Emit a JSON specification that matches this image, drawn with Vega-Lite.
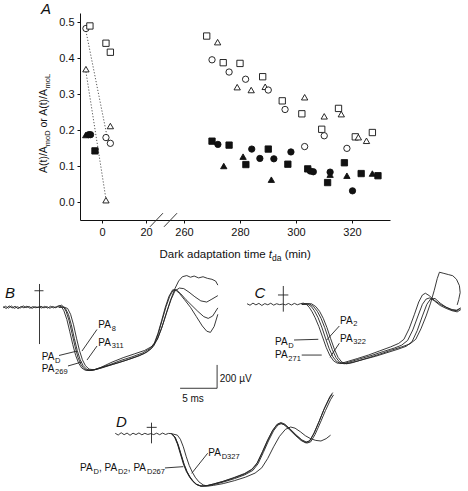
{
"$schema": "https://vega.github.io/schema/vega-lite/v6.json",
"width": 310, "height": 207,
"autosize": {"type": "none"},
"padding": {"left": 80, "top": 13, "right": 78, "bottom": 271},
"background": "white",
"config": {
  "view": {"stroke": null},
  "font": "Liberation Sans",
  "axis": {"grid": false, "domainColor": "#111", "tickColor": "#111", "labelColor": "#111", "titleColor": "#111", "labelFont": "Liberation Sans", "titleFont": "Liberation Sans", "titleFontWeight": "normal", "domainWidth": 1, "tickWidth": 1}
},
"datasets": {
  "pts": [
    {"t":-7.3,"r":0.482,"m":"c","f":"o"},{"t":-5.5,"r":0.489,"m":"s","f":"o"},{"t":1.8,"r":0.441,"m":"s","f":"o"},{"t":3.8,"r":0.416,"m":"s","f":"o"},
    {"t":-7.3,"r":0.369,"m":"t","f":"o"},{"t":3.8,"r":0.211,"m":"t","f":"o"},{"t":1.8,"r":0.179,"m":"c","f":"o"},{"t":3.8,"r":0.163,"m":"c","f":"o"},{"t":1.8,"r":0.005,"m":"t","f":"o"},
    {"t":-7.4,"r":0.186,"m":"t","f":"f"},{"t":-6.0,"r":0.187,"m":"c","f":"f"},{"t":-5.2,"r":0.187,"m":"c","f":"f"},{"t":-3.2,"r":0.142,"m":"s","f":"f"},
    {"t":268.1,"r":0.461,"m":"s","f":"o"},{"t":272.0,"r":0.444,"m":"t","f":"o"},{"t":270.0,"r":0.395,"m":"c","f":"o"},{"t":274.0,"r":0.387,"m":"s","f":"o"},
    {"t":280.0,"r":0.385,"m":"s","f":"o"},{"t":276.1,"r":0.361,"m":"c","f":"o"},{"t":282.0,"r":0.341,"m":"c","f":"o"},{"t":288.1,"r":0.348,"m":"s","f":"o"},
    {"t":279.0,"r":0.319,"m":"t","f":"o"},{"t":284.0,"r":0.311,"m":"t","f":"o"},{"t":289.0,"r":0.320,"m":"t","f":"o"},{"t":290.1,"r":0.311,"m":"c","f":"o"},
    {"t":295.1,"r":0.281,"m":"s","f":"o"},{"t":303.1,"r":0.291,"m":"t","f":"o"},{"t":296.1,"r":0.257,"m":"c","f":"o"},{"t":302.1,"r":0.245,"m":"s","f":"o"},
    {"t":310.1,"r":0.238,"m":"t","f":"o"},{"t":315.2,"r":0.260,"m":"s","f":"o"},{"t":316.2,"r":0.244,"m":"t","f":"o"},{"t":309.2,"r":0.202,"m":"s","f":"o"},
    {"t":310.1,"r":0.184,"m":"c","f":"o"},{"t":303.1,"r":0.154,"m":"c","f":"o"},{"t":318.2,"r":0.149,"m":"c","f":"o"},{"t":321.2,"r":0.181,"m":"s","f":"o"},
    {"t":322.3,"r":0.180,"m":"t","f":"o"},{"t":325.2,"r":0.170,"m":"t","f":"o"},{"t":327.3,"r":0.193,"m":"s","f":"o"},
    {"t":270.0,"r":0.169,"m":"s","f":"f"},{"t":272.1,"r":0.160,"m":"c","f":"f"},{"t":276.1,"r":0.158,"m":"s","f":"f"},{"t":274.2,"r":0.100,"m":"t","f":"f"},
    {"t":281.1,"r":0.126,"m":"t","f":"f"},{"t":282.1,"r":0.104,"m":"s","f":"f"},{"t":284.2,"r":0.147,"m":"c","f":"f"},{"t":290.1,"r":0.147,"m":"s","f":"f"},
    {"t":287.1,"r":0.121,"m":"c","f":"f"},{"t":292.1,"r":0.120,"m":"c","f":"f"},{"t":291.2,"r":0.062,"m":"t","f":"f"},{"t":298.2,"r":0.139,"m":"c","f":"f"},
    {"t":297.1,"r":0.105,"m":"s","f":"f"},{"t":304.2,"r":0.092,"m":"s","f":"f"},{"t":305.1,"r":0.086,"m":"c","f":"f"},{"t":306.2,"r":0.084,"m":"c","f":"f"},
    {"t":312.2,"r":0.083,"m":"c","f":"f"},{"t":312.2,"r":0.076,"m":"t","f":"f"},{"t":311.3,"r":0.054,"m":"s","f":"f"},{"t":317.3,"r":0.109,"m":"s","f":"f"},
    {"t":318.2,"r":0.073,"m":"t","f":"f"},{"t":320.2,"r":0.031,"m":"c","f":"f"},{"t":323.3,"r":0.079,"m":"s","f":"f"},{"t":327.3,"r":0.079,"m":"t","f":"f"},
    {"t":329.3,"r":0.073,"m":"s","f":"f"}
  ],
  "fits": [
    {"t":-7.3,"r":0.475,"t2":2.7,"r2":0.17},
    {"t":-7.3,"r":0.362,"t2":1.8,"r2":0.008}
  ],
  "brk": [
    {"t":21.8,"r":-0.069,"t2":27.7,"r2":-0.031},
    {"t":252.84,"r":-0.069,"t2":257.5,"r2":-0.031}
  ],
  "ttl": [
    {"k":"xm","t":26.14,"r":-0.1556,"txt":"Dark adaptation time"},
    {"k":"xi","t":290.27,"r":-0.1556,"txt":"t"},
    {"k":"xs","t":291.41,"r":-0.1556,"txt":"da"},
    {"k":"xm","t":295.95,"r":-0.1556,"txt":"(min)"},
    {"k":"ym","t":-25.0,"r":0.0806,"txt":"A(t)/A"},
    {"k":"ys","t":-25.0,"r":0.155,"txt":"moD"},
    {"k":"ym","t":-25.0,"r":0.207,"txt":"or A(t)/A"},
    {"k":"ys","t":-25.0,"r":0.3156,"txt":"moL"},
    {"k":"lt","t":-25.45,"r":0.522,"txt":"A"}
  ],
  "tr": [
    {"p":"B","s":"1","t":-4.9,"v":6},{"p":"B","s":"1","t":-4.5,"v":-10},{"p":"B","s":"1","t":-4.1,"v":12},{"p":"B","s":"1","t":-3.7,"v":-6},{"p":"B","s":"1","t":-3.3,"v":9},{"p":"B","s":"1","t":-2.9,"v":-12},{"p":"B","s":"1","t":-2.5,"v":7},{"p":"B","s":"1","t":-2.1,"v":-5},{"p":"B","s":"1","t":-1.7,"v":10},{"p":"B","s":"1","t":-1.3,"v":-8},{"p":"B","s":"1","t":-0.9,"v":6},{"p":"B","s":"1","t":-0.5,"v":-4},{"p":"B","s":"1","t":-0.1,"v":3},{"p":"B","s":"1","t":0.3,"v":-6},{"p":"B","s":"1","t":0.7,"v":8},{"p":"B","s":"1","t":1.1,"v":-7},{"p":"B","s":"1","t":1.5,"v":9},{"p":"B","s":"1","t":1.9,"v":-5},{"p":"B","s":"1","t":2.3,"v":6},{"p":"B","s":"1","t":2.7,"v":14},{"p":"B","s":"1","t":3.0,"v":2},{"p":"B","s":"1","t":3.3,"v":-30},{"p":"B","s":"1","t":3.7,"v":-105},{"p":"B","s":"1","t":4.1,"v":-210},{"p":"B","s":"1","t":4.5,"v":-320},{"p":"B","s":"1","t":4.9,"v":-415},{"p":"B","s":"1","t":5.3,"v":-480},{"p":"B","s":"1","t":5.7,"v":-520},{"p":"B","s":"1","t":6.2,"v":-540},{"p":"B","s":"1","t":6.8,"v":-542},{"p":"B","s":"1","t":7.5,"v":-535},{"p":"B","s":"1","t":8.5,"v":-518},{"p":"B","s":"1","t":10,"v":-488},{"p":"B","s":"1","t":11.5,"v":-458},{"p":"B","s":"1","t":13,"v":-425},{"p":"B","s":"1","t":14.2,"v":-395},{"p":"B","s":"1","t":15.1,"v":-355},{"p":"B","s":"1","t":15.6,"v":-305},{"p":"B","s":"1","t":16.1,"v":-215},{"p":"B","s":"1","t":16.6,"v":-105},{"p":"B","s":"1","t":17.1,"v":5},{"p":"B","s":"1","t":17.6,"v":95},{"p":"B","s":"1","t":18.0,"v":140},{"p":"B","s":"1","t":18.4,"v":148},{"p":"B","s":"1","t":18.9,"v":120},{"p":"B","s":"1","t":19.6,"v":65},{"p":"B","s":"1","t":20.4,"v":0},{"p":"B","s":"1","t":21.2,"v":-80},{"p":"B","s":"1","t":22.0,"v":-160},{"p":"B","s":"1","t":22.6,"v":-205},{"p":"B","s":"1","t":23.1,"v":-215},{"p":"B","s":"1","t":23.6,"v":-165},{"p":"B","s":"1","t":24.1,"v":-60},
    {"p":"B","s":"2","t":-4.9,"v":-4},{"p":"B","s":"2","t":-4.6,"v":9},{"p":"B","s":"2","t":-4.2,"v":-7},{"p":"B","s":"2","t":-3.8,"v":11},{"p":"B","s":"2","t":-3.4,"v":-9},{"p":"B","s":"2","t":-3.0,"v":5},{"p":"B","s":"2","t":-2.6,"v":-6},{"p":"B","s":"2","t":-2.2,"v":12},{"p":"B","s":"2","t":-1.8,"v":-3},{"p":"B","s":"2","t":-1.4,"v":7},{"p":"B","s":"2","t":-1.0,"v":-9},{"p":"B","s":"2","t":-0.6,"v":5},{"p":"B","s":"2","t":-0.2,"v":-2},{"p":"B","s":"2","t":0.2,"v":9},{"p":"B","s":"2","t":0.6,"v":-5},{"p":"B","s":"2","t":1.0,"v":6},{"p":"B","s":"2","t":1.4,"v":-8},{"p":"B","s":"2","t":1.8,"v":7},{"p":"B","s":"2","t":2.2,"v":-4},{"p":"B","s":"2","t":2.6,"v":10},{"p":"B","s":"2","t":3.0,"v":18},{"p":"B","s":"2","t":3.3,"v":0},{"p":"B","s":"2","t":3.6,"v":-35},{"p":"B","s":"2","t":4.0,"v":-115},{"p":"B","s":"2","t":4.4,"v":-225},{"p":"B","s":"2","t":4.8,"v":-335},{"p":"B","s":"2","t":5.2,"v":-430},{"p":"B","s":"2","t":5.6,"v":-490},{"p":"B","s":"2","t":6.0,"v":-525},{"p":"B","s":"2","t":6.5,"v":-541},{"p":"B","s":"2","t":7.1,"v":-540},{"p":"B","s":"2","t":8.0,"v":-522},{"p":"B","s":"2","t":9.5,"v":-492},{"p":"B","s":"2","t":11,"v":-455},{"p":"B","s":"2","t":12.5,"v":-425},{"p":"B","s":"2","t":13.9,"v":-392},{"p":"B","s":"2","t":14.9,"v":-355},{"p":"B","s":"2","t":15.5,"v":-310},{"p":"B","s":"2","t":16.0,"v":-225},{"p":"B","s":"2","t":16.5,"v":-115},{"p":"B","s":"2","t":17.0,"v":0},{"p":"B","s":"2","t":17.5,"v":95},{"p":"B","s":"2","t":18.0,"v":150},{"p":"B","s":"2","t":18.5,"v":150},{"p":"B","s":"2","t":19.1,"v":115},{"p":"B","s":"2","t":19.8,"v":65},{"p":"B","s":"2","t":20.6,"v":15},{"p":"B","s":"2","t":21.4,"v":-35},{"p":"B","s":"2","t":22.2,"v":-80},{"p":"B","s":"2","t":22.8,"v":-95},{"p":"B","s":"2","t":23.4,"v":-75},{"p":"B","s":"2","t":24.1,"v":-5},
    {"p":"B","s":"3","t":2.6,"v":0},{"p":"B","s":"3","t":3.1,"v":3},{"p":"B","s":"3","t":3.5,"v":-10},{"p":"B","s":"3","t":3.9,"v":-60},{"p":"B","s":"3","t":4.3,"v":-150},{"p":"B","s":"3","t":4.7,"v":-265},{"p":"B","s":"3","t":5.1,"v":-370},{"p":"B","s":"3","t":5.5,"v":-450},{"p":"B","s":"3","t":5.9,"v":-500},{"p":"B","s":"3","t":6.4,"v":-532},{"p":"B","s":"3","t":7.0,"v":-540},{"p":"B","s":"3","t":7.8,"v":-530},{"p":"B","s":"3","t":9,"v":-505},{"p":"B","s":"3","t":10.5,"v":-478},{"p":"B","s":"3","t":12,"v":-448},{"p":"B","s":"3","t":13.5,"v":-415},{"p":"B","s":"3","t":14.6,"v":-380},{"p":"B","s":"3","t":15.4,"v":-335},{"p":"B","s":"3","t":16.0,"v":-265},{"p":"B","s":"3","t":16.6,"v":-160},{"p":"B","s":"3","t":17.2,"v":-40},{"p":"B","s":"3","t":17.8,"v":70},{"p":"B","s":"3","t":18.3,"v":140},{"p":"B","s":"3","t":18.9,"v":165},{"p":"B","s":"3","t":19.5,"v":160},{"p":"B","s":"3","t":20.2,"v":130},{"p":"B","s":"3","t":21.0,"v":90},{"p":"B","s":"3","t":21.8,"v":55},{"p":"B","s":"3","t":22.6,"v":45},{"p":"B","s":"3","t":23.3,"v":70},{"p":"B","s":"3","t":24.1,"v":100},
    {"p":"B","s":"4","t":2.6,"v":0},{"p":"B","s":"4","t":3.3,"v":2},{"p":"B","s":"4","t":3.8,"v":-10},{"p":"B","s":"4","t":4.2,"v":-60},{"p":"B","s":"4","t":4.6,"v":-150},{"p":"B","s":"4","t":5.0,"v":-265},{"p":"B","s":"4","t":5.4,"v":-370},{"p":"B","s":"4","t":5.8,"v":-450},{"p":"B","s":"4","t":6.2,"v":-500},{"p":"B","s":"4","t":6.7,"v":-530},{"p":"B","s":"4","t":7.4,"v":-536},{"p":"B","s":"4","t":8.3,"v":-515},{"p":"B","s":"4","t":9.8,"v":-470},{"p":"B","s":"4","t":11.3,"v":-432},{"p":"B","s":"4","t":12.8,"v":-400},{"p":"B","s":"4","t":14.2,"v":-370},{"p":"B","s":"4","t":15.2,"v":-335},{"p":"B","s":"4","t":15.9,"v":-275},{"p":"B","s":"4","t":16.5,"v":-180},{"p":"B","s":"4","t":17.1,"v":-60},{"p":"B","s":"4","t":17.7,"v":60},{"p":"B","s":"4","t":18.3,"v":160},{"p":"B","s":"4","t":18.8,"v":225},{"p":"B","s":"4","t":19.3,"v":262},{"p":"B","s":"4","t":19.9,"v":272},{"p":"B","s":"4","t":20.4,"v":258},{"p":"B","s":"4","t":20.9,"v":268},{"p":"B","s":"4","t":21.5,"v":252},{"p":"B","s":"4","t":22.1,"v":262},{"p":"B","s":"4","t":22.7,"v":248},{"p":"B","s":"4","t":23.3,"v":240},{"p":"B","s":"4","t":23.8,"v":225},{"p":"B","s":"4","t":24.1,"v":190},
    {"p":"C","s":"1","t":-4.9,"v":5},{"p":"C","s":"1","t":-4.5,"v":-8},{"p":"C","s":"1","t":-4.1,"v":10},{"p":"C","s":"1","t":-3.7,"v":-5},{"p":"C","s":"1","t":-3.3,"v":8},{"p":"C","s":"1","t":-2.9,"v":-10},{"p":"C","s":"1","t":-2.5,"v":6},{"p":"C","s":"1","t":-2.1,"v":-4},{"p":"C","s":"1","t":-1.7,"v":9},{"p":"C","s":"1","t":-1.3,"v":-7},{"p":"C","s":"1","t":-0.9,"v":5},{"p":"C","s":"1","t":-0.5,"v":-3},{"p":"C","s":"1","t":-0.1,"v":2},{"p":"C","s":"1","t":0.3,"v":-5},{"p":"C","s":"1","t":0.7,"v":7},{"p":"C","s":"1","t":1.1,"v":-6},{"p":"C","s":"1","t":1.5,"v":8},{"p":"C","s":"1","t":1.9,"v":-4},{"p":"C","s":"1","t":2.3,"v":5},{"p":"C","s":"1","t":2.7,"v":10},{"p":"C","s":"1","t":3.1,"v":0},{"p":"C","s":"1","t":3.5,"v":-25},{"p":"C","s":"1","t":3.9,"v":-65},{"p":"C","s":"1","t":4.3,"v":-115},{"p":"C","s":"1","t":4.8,"v":-190},{"p":"C","s":"1","t":5.3,"v":-280},{"p":"C","s":"1","t":5.8,"v":-370},{"p":"C","s":"1","t":6.3,"v":-440},{"p":"C","s":"1","t":6.8,"v":-485},{"p":"C","s":"1","t":7.3,"v":-505},{"p":"C","s":"1","t":7.9,"v":-505},{"p":"C","s":"1","t":8.8,"v":-488},{"p":"C","s":"1","t":10,"v":-465},{"p":"C","s":"1","t":11.5,"v":-435},{"p":"C","s":"1","t":13,"v":-400},{"p":"C","s":"1","t":14.5,"v":-365},{"p":"C","s":"1","t":15.6,"v":-335},{"p":"C","s":"1","t":16.3,"v":-300},{"p":"C","s":"1","t":17.0,"v":-210},{"p":"C","s":"1","t":17.7,"v":-90},{"p":"C","s":"1","t":18.3,"v":20},{"p":"C","s":"1","t":18.8,"v":80},{"p":"C","s":"1","t":19.2,"v":95},{"p":"C","s":"1","t":19.7,"v":75},{"p":"C","s":"1","t":20.4,"v":35},{"p":"C","s":"1","t":21.2,"v":0},{"p":"C","s":"1","t":22.0,"v":-25},{"p":"C","s":"1","t":22.8,"v":-45},{"p":"C","s":"1","t":23.4,"v":-50},{"p":"C","s":"1","t":23.9,"v":-35},
    {"p":"C","s":"2","t":2.5,"v":0},{"p":"C","s":"2","t":3.2,"v":5},{"p":"C","s":"2","t":3.8,"v":-20},{"p":"C","s":"2","t":4.2,"v":-55},{"p":"C","s":"2","t":4.7,"v":-115},{"p":"C","s":"2","t":5.2,"v":-195},{"p":"C","s":"2","t":5.7,"v":-290},{"p":"C","s":"2","t":6.2,"v":-380},{"p":"C","s":"2","t":6.7,"v":-450},{"p":"C","s":"2","t":7.2,"v":-490},{"p":"C","s":"2","t":7.7,"v":-507},{"p":"C","s":"2","t":8.3,"v":-505},{"p":"C","s":"2","t":9.3,"v":-488},{"p":"C","s":"2","t":10.5,"v":-465},{"p":"C","s":"2","t":12,"v":-437},{"p":"C","s":"2","t":13.5,"v":-405},{"p":"C","s":"2","t":15,"v":-375},{"p":"C","s":"2","t":16.0,"v":-350},{"p":"C","s":"2","t":16.8,"v":-310},{"p":"C","s":"2","t":17.5,"v":-220},{"p":"C","s":"2","t":18.2,"v":-100},{"p":"C","s":"2","t":18.8,"v":0},{"p":"C","s":"2","t":19.3,"v":45},{"p":"C","s":"2","t":19.8,"v":55},{"p":"C","s":"2","t":20.4,"v":30},{"p":"C","s":"2","t":21.2,"v":-10},{"p":"C","s":"2","t":22.0,"v":-35},{"p":"C","s":"2","t":22.8,"v":-55},{"p":"C","s":"2","t":23.5,"v":-65},{"p":"C","s":"2","t":24.0,"v":-45},
    {"p":"C","s":"3","t":2.5,"v":0},{"p":"C","s":"3","t":3.5,"v":5},{"p":"C","s":"3","t":4.1,"v":-20},{"p":"C","s":"3","t":4.6,"v":-60},{"p":"C","s":"3","t":5.1,"v":-120},{"p":"C","s":"3","t":5.6,"v":-200},{"p":"C","s":"3","t":6.1,"v":-295},{"p":"C","s":"3","t":6.6,"v":-385},{"p":"C","s":"3","t":7.1,"v":-455},{"p":"C","s":"3","t":7.6,"v":-495},{"p":"C","s":"3","t":8.2,"v":-510},{"p":"C","s":"3","t":8.8,"v":-505},{"p":"C","s":"3","t":9.8,"v":-490},{"p":"C","s":"3","t":11,"v":-470},{"p":"C","s":"3","t":12.5,"v":-445},{"p":"C","s":"3","t":14,"v":-415},{"p":"C","s":"3","t":15.5,"v":-385},{"p":"C","s":"3","t":16.6,"v":-360},{"p":"C","s":"3","t":17.4,"v":-320},{"p":"C","s":"3","t":18.1,"v":-225},{"p":"C","s":"3","t":18.8,"v":-100},{"p":"C","s":"3","t":19.4,"v":0},{"p":"C","s":"3","t":19.9,"v":45},{"p":"C","s":"3","t":20.5,"v":50},{"p":"C","s":"3","t":21.2,"v":10},{"p":"C","s":"3","t":22.0,"v":-25},{"p":"C","s":"3","t":22.8,"v":-50},{"p":"C","s":"3","t":23.5,"v":-55},{"p":"C","s":"3","t":24.0,"v":-30},
    {"p":"C","s":"4","t":2.5,"v":0},{"p":"C","s":"4","t":3.8,"v":5},{"p":"C","s":"4","t":4.4,"v":-20},{"p":"C","s":"4","t":4.9,"v":-60},{"p":"C","s":"4","t":5.4,"v":-120},{"p":"C","s":"4","t":5.9,"v":-200},{"p":"C","s":"4","t":6.4,"v":-295},{"p":"C","s":"4","t":6.9,"v":-385},{"p":"C","s":"4","t":7.4,"v":-455},{"p":"C","s":"4","t":7.9,"v":-495},{"p":"C","s":"4","t":8.5,"v":-510},{"p":"C","s":"4","t":9.2,"v":-503},{"p":"C","s":"4","t":10.3,"v":-482},{"p":"C","s":"4","t":11.5,"v":-458},{"p":"C","s":"4","t":13,"v":-428},{"p":"C","s":"4","t":14.5,"v":-395},{"p":"C","s":"4","t":16,"v":-365},{"p":"C","s":"4","t":17.1,"v":-340},{"p":"C","s":"4","t":17.9,"v":-300},{"p":"C","s":"4","t":18.6,"v":-210},{"p":"C","s":"4","t":19.3,"v":-100},{"p":"C","s":"4","t":19.9,"v":10},{"p":"C","s":"4","t":20.4,"v":120},{"p":"C","s":"4","t":20.8,"v":220},{"p":"C","s":"4","t":21.1,"v":275},{"p":"C","s":"4","t":21.7,"v":265},{"p":"C","s":"4","t":22.3,"v":255},{"p":"C","s":"4","t":22.9,"v":245},{"p":"C","s":"4","t":23.4,"v":215},{"p":"C","s":"4","t":23.8,"v":160},{"p":"C","s":"4","t":23.9,"v":100},{"p":"C","s":"4","t":23.7,"v":40},{"p":"C","s":"4","t":23.5,"v":-5},
    {"p":"D","s":"1","t":-4.9,"v":6},{"p":"D","s":"1","t":-4.5,"v":-9},{"p":"D","s":"1","t":-4.1,"v":11},{"p":"D","s":"1","t":-3.7,"v":-6},{"p":"D","s":"1","t":-3.3,"v":8},{"p":"D","s":"1","t":-2.9,"v":-11},{"p":"D","s":"1","t":-2.5,"v":7},{"p":"D","s":"1","t":-2.1,"v":-5},{"p":"D","s":"1","t":-1.7,"v":9},{"p":"D","s":"1","t":-1.3,"v":-7},{"p":"D","s":"1","t":-0.9,"v":6},{"p":"D","s":"1","t":-0.5,"v":-4},{"p":"D","s":"1","t":-0.1,"v":3},{"p":"D","s":"1","t":0.3,"v":-5},{"p":"D","s":"1","t":0.7,"v":7},{"p":"D","s":"1","t":1.1,"v":-6},{"p":"D","s":"1","t":1.5,"v":8},{"p":"D","s":"1","t":1.9,"v":-4},{"p":"D","s":"1","t":2.3,"v":5},{"p":"D","s":"1","t":2.7,"v":3},{"p":"D","s":"1","t":3.1,"v":-25},{"p":"D","s":"1","t":3.5,"v":-85},{"p":"D","s":"1","t":3.9,"v":-170},{"p":"D","s":"1","t":4.3,"v":-255},{"p":"D","s":"1","t":4.7,"v":-320},{"p":"D","s":"1","t":5.1,"v":-365},{"p":"D","s":"1","t":5.5,"v":-400},{"p":"D","s":"1","t":6.0,"v":-430},{"p":"D","s":"1","t":6.6,"v":-446},{"p":"D","s":"1","t":7.3,"v":-445},{"p":"D","s":"1","t":8.2,"v":-432},{"p":"D","s":"1","t":9.5,"v":-410},{"p":"D","s":"1","t":11,"v":-380},{"p":"D","s":"1","t":12.5,"v":-345},{"p":"D","s":"1","t":13.5,"v":-310},{"p":"D","s":"1","t":14.2,"v":-260},{"p":"D","s":"1","t":14.9,"v":-170},{"p":"D","s":"1","t":15.6,"v":-70},{"p":"D","s":"1","t":16.3,"v":20},{"p":"D","s":"1","t":16.9,"v":75},{"p":"D","s":"1","t":17.4,"v":92},{"p":"D","s":"1","t":17.9,"v":80},{"p":"D","s":"1","t":18.6,"v":40},{"p":"D","s":"1","t":19.4,"v":-10},{"p":"D","s":"1","t":20.2,"v":-55},{"p":"D","s":"1","t":20.8,"v":-75},{"p":"D","s":"1","t":21.3,"v":-65},{"p":"D","s":"1","t":21.9,"v":0},{"p":"D","s":"1","t":22.6,"v":100},{"p":"D","s":"1","t":23.3,"v":210},{"p":"D","s":"1","t":24.0,"v":300},{"p":"D","s":"1","t":24.4,"v":340},
    {"p":"D","s":"2","t":2.7,"v":3},{"p":"D","s":"2","t":3.2,"v":-30},{"p":"D","s":"2","t":3.6,"v":-95},{"p":"D","s":"2","t":4.0,"v":-180},{"p":"D","s":"2","t":4.4,"v":-262},{"p":"D","s":"2","t":4.8,"v":-325},{"p":"D","s":"2","t":5.2,"v":-370},{"p":"D","s":"2","t":5.6,"v":-405},{"p":"D","s":"2","t":6.1,"v":-433},{"p":"D","s":"2","t":6.7,"v":-447},{"p":"D","s":"2","t":7.4,"v":-444},{"p":"D","s":"2","t":8.4,"v":-428},{"p":"D","s":"2","t":9.7,"v":-405},{"p":"D","s":"2","t":11.2,"v":-372},{"p":"D","s":"2","t":12.6,"v":-338},{"p":"D","s":"2","t":13.6,"v":-300},{"p":"D","s":"2","t":14.3,"v":-245},{"p":"D","s":"2","t":15.0,"v":-150},{"p":"D","s":"2","t":15.7,"v":-50},{"p":"D","s":"2","t":16.4,"v":35},{"p":"D","s":"2","t":17.0,"v":85},{"p":"D","s":"2","t":17.5,"v":98},{"p":"D","s":"2","t":18.0,"v":85},{"p":"D","s":"2","t":18.7,"v":45},{"p":"D","s":"2","t":19.5,"v":-5},{"p":"D","s":"2","t":20.3,"v":-50},{"p":"D","s":"2","t":20.9,"v":-68},{"p":"D","s":"2","t":21.4,"v":-58},{"p":"D","s":"2","t":22.0,"v":10},{"p":"D","s":"2","t":22.7,"v":115},{"p":"D","s":"2","t":23.4,"v":225},{"p":"D","s":"2","t":24.1,"v":320},{"p":"D","s":"2","t":24.5,"v":355},
    {"p":"D","s":"3","t":2.7,"v":3},{"p":"D","s":"3","t":3.2,"v":-28},{"p":"D","s":"3","t":3.6,"v":-90},{"p":"D","s":"3","t":4.0,"v":-175},{"p":"D","s":"3","t":4.4,"v":-258},{"p":"D","s":"3","t":4.8,"v":-322},{"p":"D","s":"3","t":5.2,"v":-368},{"p":"D","s":"3","t":5.6,"v":-402},{"p":"D","s":"3","t":6.1,"v":-432},{"p":"D","s":"3","t":6.7,"v":-446},{"p":"D","s":"3","t":7.4,"v":-446},{"p":"D","s":"3","t":8.4,"v":-433},{"p":"D","s":"3","t":9.7,"v":-412},{"p":"D","s":"3","t":11.2,"v":-383},{"p":"D","s":"3","t":12.6,"v":-350},{"p":"D","s":"3","t":13.7,"v":-312},{"p":"D","s":"3","t":14.4,"v":-255},{"p":"D","s":"3","t":15.1,"v":-160},{"p":"D","s":"3","t":15.8,"v":-60},{"p":"D","s":"3","t":16.5,"v":28},{"p":"D","s":"3","t":17.1,"v":78},{"p":"D","s":"3","t":17.6,"v":90},{"p":"D","s":"3","t":18.1,"v":75},{"p":"D","s":"3","t":18.8,"v":35},{"p":"D","s":"3","t":19.6,"v":-15},{"p":"D","s":"3","t":20.4,"v":-58},{"p":"D","s":"3","t":21.0,"v":-78},{"p":"D","s":"3","t":21.5,"v":-68},{"p":"D","s":"3","t":22.1,"v":-5},{"p":"D","s":"3","t":22.8,"v":95},{"p":"D","s":"3","t":23.5,"v":200},{"p":"D","s":"3","t":24.2,"v":295},{"p":"D","s":"3","t":24.6,"v":335},
    {"p":"D","s":"4","t":2.7,"v":3},{"p":"D","s":"4","t":3.5,"v":-10},{"p":"D","s":"4","t":3.9,"v":-45},{"p":"D","s":"4","t":4.3,"v":-110},{"p":"D","s":"4","t":4.7,"v":-195},{"p":"D","s":"4","t":5.1,"v":-270},{"p":"D","s":"4","t":5.5,"v":-325},{"p":"D","s":"4","t":5.9,"v":-370},{"p":"D","s":"4","t":6.4,"v":-410},{"p":"D","s":"4","t":7.0,"v":-437},{"p":"D","s":"4","t":7.6,"v":-447},{"p":"D","s":"4","t":8.4,"v":-440},{"p":"D","s":"4","t":9.7,"v":-425},{"p":"D","s":"4","t":11.2,"v":-400},{"p":"D","s":"4","t":12.7,"v":-370},{"p":"D","s":"4","t":14.0,"v":-335},{"p":"D","s":"4","t":14.9,"v":-290},{"p":"D","s":"4","t":15.7,"v":-210},{"p":"D","s":"4","t":16.5,"v":-110},{"p":"D","s":"4","t":17.3,"v":-20},{"p":"D","s":"4","t":18.1,"v":40},{"p":"D","s":"4","t":18.8,"v":60},{"p":"D","s":"4","t":19.4,"v":50},{"p":"D","s":"4","t":20.1,"v":20},{"p":"D","s":"4","t":20.8,"v":-15},{"p":"D","s":"4","t":21.5,"v":-40},{"p":"D","s":"4","t":22.2,"v":-55},{"p":"D","s":"4","t":22.9,"v":-60},{"p":"D","s":"4","t":23.6,"v":-40},{"p":"D","s":"4","t":24.2,"v":-10}
  ],
  "rl": [
    {"p":"B","t":0,"v":200,"t2":0,"v2":-315},{"p":"B","t":-0.68,"v":142,"t2":0.54,"v2":142},
    {"p":"B","t":24.0,"v":-494,"t2":24.0,"v2":-694},{"p":"B","t":19.0,"v":-694,"t2":24.0,"v2":-694},
    {"p":"B","t":7.77,"v":-190,"t2":5.74,"v2":-375},{"p":"B","t":7.77,"v":-332,"t2":6.42,"v2":-452},
    {"p":"B","t":2.64,"v":-413,"t2":5.07,"v2":-375},{"p":"B","t":3.85,"v":-503,"t2":5.70,"v2":-469},
    {"p":"C","t":0,"v":157,"t2":0,"v2":-63},{"p":"C","t":-0.72,"v":80,"t2":0.68,"v2":80},
    {"p":"C","t":7.57,"v":-186,"t2":5.86,"v2":-306},{"p":"C","t":1.45,"v":-306,"t2":4.73,"v2":-300},
    {"p":"C","t":7.57,"v":-334,"t2":6.31,"v2":-454},{"p":"C","t":2.49,"v":-435,"t2":5.19,"v2":-435},
    {"p":"D","t":0,"v":97,"t2":0,"v2":-80},{"p":"D","t":-0.65,"v":57,"t2":0.70,"v2":57},
    {"p":"D","t":7.59,"v":-165,"t2":5.43,"v2":-337},{"p":"D","t":1.82,"v":-291,"t2":4.30,"v2":-280}
  ],
  "lb": [
    {"p":"B","k":"m","t":7.95,"v":-152,"txt":"PA"},{"p":"B","k":"s","t":9.75,"v":-152,"txt":"8"},
    {"p":"B","k":"m","t":7.95,"v":-302,"txt":"PA"},{"p":"B","k":"s","t":9.75,"v":-302,"txt":"311"},
    {"p":"B","k":"m","t":0.30,"v":-430,"txt":"PA"},{"p":"B","k":"s","t":2.10,"v":-430,"txt":"D"},
    {"p":"B","k":"m","t":0.30,"v":-526,"txt":"PA"},{"p":"B","k":"s","t":2.10,"v":-526,"txt":"269"},
    {"p":"C","k":"m","t":7.66,"v":-143,"txt":"PA"},{"p":"C","k":"s","t":9.46,"v":-143,"txt":"2"},
    {"p":"C","k":"m","t":-1.12,"v":-327,"txt":"PA"},{"p":"C","k":"s","t":0.68,"v":-327,"txt":"D"},
    {"p":"C","k":"m","t":7.66,"v":-297,"txt":"PA"},{"p":"C","k":"s","t":9.46,"v":-297,"txt":"322"},
    {"p":"C","k":"m","t":-1.12,"v":-435,"txt":"PA"},{"p":"C","k":"s","t":0.68,"v":-435,"txt":"271"},
    {"p":"D","k":"m","t":7.68,"v":-165,"txt":"PA"},{"p":"D","k":"s","t":9.48,"v":-165,"txt":"D327"},
    {"p":"D","k":"m","t":-9.66,"v":-294,"txt":"PA"},{"p":"D","k":"s","t":-7.84,"v":-294,"txt":"D"},
    {"p":"D","k":"m","t":-7.09,"v":-294,"txt":", PA"},{"p":"D","k":"s","t":-4.53,"v":-294,"txt":"D2"},
    {"p":"D","k":"m","t":-3.20,"v":-294,"txt":", PA"},{"p":"D","k":"s","t":-0.61,"v":-294,"txt":"D267"}
  ],
  "lt": [
    {"p":"B","t":-3.99,"v":84,"txt":"B"},
    {"p":"C","t":-3.15,"v":58,"txt":"C"},
    {"p":"D","t":-4.05,"v":60,"txt":"D"}
  ]
},
"layer": [
  {
    "encoding": {
      "x": {"field": "t", "type": "quantitative", "title": null,
            "scale": {"domain": [-10, 28, 252.7, 333.6], "range": [0, 83.6, 83.6, 310], "nice": false, "zero": false},
            "axis": {"title": null, "values": [0, 20, 260, 280, 300, 320], "tickSize": 3, "labelFontSize": 11, "labelPadding": 3, "labelFlush": false}},
      "y": {"field": "r", "type": "quantitative", "title": null,
            "scale": {"domain": [-0.05, 0.525], "nice": false, "zero": false},
            "axis": {"title": null, "values": [0, 0.1, 0.2, 0.3, 0.4, 0.5], "format": ".1f", "tickSize": 3, "labelFontSize": 11, "labelPadding": 3}}
    },
    "layer": [
      {
        "data": {"name": "fits"},
        "mark": {"type": "rule", "color": "#555", "strokeWidth": 1, "strokeDash": [1.2, 1.8]},
        "encoding": {"x2": {"field": "t2"}, "y2": {"field": "r2"}}
      },
      {
        "data": {"name": "brk"},
        "mark": {"type": "rule", "color": "#222", "strokeWidth": 0.9},
        "encoding": {"x2": {"field": "t2"}, "y2": {"field": "r2"}}
      },
      {
        "data": {"name": "pts"},
        "mark": {"type": "point", "filled": true, "stroke": "#111", "strokeWidth": 0.9, "size": 40, "opacity": 1},
        "encoding": {
          "shape": {"field": "m", "type": "nominal", "scale": {"domain": ["c", "s", "t"], "range": ["circle", "square", "triangle-up"]}, "legend": null},
          "fill": {"field": "f", "type": "nominal", "scale": {"domain": ["o", "f"], "range": ["white", "#111"]}, "legend": null}
        }
      },
      {
        "data": {"name": "ttl"}, "transform": [{"filter": "datum.k == 'xm'"}],
        "mark": {"type": "text", "fontSize": 11.5, "align": "left", "baseline": "alphabetic", "color": "#111"},
        "encoding": {"text": {"field": "txt"}}
      },
      {
        "data": {"name": "ttl"}, "transform": [{"filter": "datum.k == 'xi'"}],
        "mark": {"type": "text", "fontSize": 11.5, "fontStyle": "italic", "align": "left", "baseline": "alphabetic", "color": "#111"},
        "encoding": {"text": {"field": "txt"}}
      },
      {
        "data": {"name": "ttl"}, "transform": [{"filter": "datum.k == 'xs'"}],
        "mark": {"type": "text", "fontSize": 8.5, "align": "left", "baseline": "alphabetic", "dy": 3, "color": "#111"},
        "encoding": {"text": {"field": "txt"}}
      },
      {
        "data": {"name": "ttl"}, "transform": [{"filter": "datum.k == 'ym'"}],
        "mark": {"type": "text", "fontSize": 10.5, "angle": 270, "align": "left", "baseline": "alphabetic", "color": "#111"},
        "encoding": {"text": {"field": "txt"}}
      },
      {
        "data": {"name": "ttl"}, "transform": [{"filter": "datum.k == 'ys'"}],
        "mark": {"type": "text", "fontSize": 7.5, "angle": 270, "align": "left", "baseline": "alphabetic", "dy": 2.5, "color": "#111"},
        "encoding": {"text": {"field": "txt"}}
      },
      {
        "data": {"name": "ttl"}, "transform": [{"filter": "datum.k == 'lt'"}],
        "mark": {"type": "text", "fontSize": 15, "fontStyle": "italic", "align": "center", "baseline": "alphabetic", "color": "#111"},
        "encoding": {"text": {"field": "txt"}}
      }
    ]
  },
  {
    "encoding": {
      "x": {"field": "t", "type": "quantitative", "scale": {"domain": [0, 25], "range": [-40.5, 144.5], "nice": false, "zero": false}, "axis": null},
      "y": {"field": "v", "type": "quantitative", "scale": {"domain": [-600, 200], "range": [364.3, 270.97], "nice": false, "zero": false}, "axis": null}
    },
    "layer": [
      {"data": {"name": "tr"}, "transform": [{"filter": "datum.p == 'B'"}], "mark": {"type": "line", "color": "#222", "strokeWidth": 0.9}, "encoding": {"detail": {"field": "s"}, "order": {"value": null}}},
      {"data": {"name": "rl"}, "transform": [{"filter": "datum.p == 'B'"}], "mark": {"type": "rule", "color": "#222", "strokeWidth": 0.9}, "encoding": {"x2": {"field": "t2"}, "y2": {"field": "v2"}}},
      {"data": {"name": "lb"}, "transform": [{"filter": "datum.p == 'B' && datum.k == 'm'"}], "mark": {"type": "text", "fontSize": 10, "align": "left", "baseline": "middle", "color": "#111"}, "encoding": {"text": {"field": "txt"}}},
      {"data": {"name": "lb"}, "transform": [{"filter": "datum.p == 'B' && datum.k == 's'"}], "mark": {"type": "text", "fontSize": 7.5, "align": "left", "baseline": "middle", "dy": 3.5, "color": "#111"}, "encoding": {"text": {"field": "txt"}}},
      {"data": {"name": "lt"}, "transform": [{"filter": "datum.p == 'B'"}], "mark": {"type": "text", "fontSize": 15, "fontStyle": "italic", "align": "center", "baseline": "alphabetic", "color": "#111"}, "encoding": {"text": {"field": "txt"}}},
      {"data": {"values": [{"t": 24.35, "v": -614, "txt": "200 µV"}]}, "mark": {"type": "text", "fontSize": 10, "align": "left", "baseline": "middle", "color": "#111"}, "encoding": {"text": {"field": "txt"}}},
      {"data": {"values": [{"t": 20.74, "v": -786, "txt": "5 ms"}]}, "mark": {"type": "text", "fontSize": 10, "align": "center", "baseline": "middle", "color": "#111"}, "encoding": {"text": {"field": "txt"}}}
    ]
  },
  {
    "encoding": {
      "x": {"field": "t", "type": "quantitative", "scale": {"domain": [0, 25], "range": [203.3, 388.3], "nice": false, "zero": false}, "axis": null},
      "y": {"field": "v", "type": "quantitative", "scale": {"domain": [-600, 200], "range": [361.3, 267.97], "nice": false, "zero": false}, "axis": null}
    },
    "layer": [
      {"data": {"name": "tr"}, "transform": [{"filter": "datum.p == 'C'"}], "mark": {"type": "line", "color": "#222", "strokeWidth": 0.9}, "encoding": {"detail": {"field": "s"}, "order": {"value": null}}},
      {"data": {"name": "rl"}, "transform": [{"filter": "datum.p == 'C'"}], "mark": {"type": "rule", "color": "#222", "strokeWidth": 0.9}, "encoding": {"x2": {"field": "t2"}, "y2": {"field": "v2"}}},
      {"data": {"name": "lb"}, "transform": [{"filter": "datum.p == 'C' && datum.k == 'm'"}], "mark": {"type": "text", "fontSize": 10, "align": "left", "baseline": "middle", "color": "#111"}, "encoding": {"text": {"field": "txt"}}},
      {"data": {"name": "lb"}, "transform": [{"filter": "datum.p == 'C' && datum.k == 's'"}], "mark": {"type": "text", "fontSize": 7.5, "align": "left", "baseline": "middle", "dy": 3.5, "color": "#111"}, "encoding": {"text": {"field": "txt"}}},
      {"data": {"name": "lt"}, "transform": [{"filter": "datum.p == 'C'"}], "mark": {"type": "text", "fontSize": 15, "fontStyle": "italic", "align": "center", "baseline": "alphabetic", "color": "#111"}, "encoding": {"text": {"field": "txt"}}}
    ]
  },
  {
    "encoding": {
      "x": {"field": "t", "type": "quantitative", "scale": {"domain": [0, 25], "range": [71.5, 256.5], "nice": false, "zero": false}, "axis": null},
      "y": {"field": "v", "type": "quantitative", "scale": {"domain": [-600, 200], "range": [491, 397.67], "nice": false, "zero": false}, "axis": null}
    },
    "layer": [
      {"data": {"name": "tr"}, "transform": [{"filter": "datum.p == 'D'"}], "mark": {"type": "line", "color": "#222", "strokeWidth": 0.9}, "encoding": {"detail": {"field": "s"}, "order": {"value": null}}},
      {"data": {"name": "rl"}, "transform": [{"filter": "datum.p == 'D'"}], "mark": {"type": "rule", "color": "#222", "strokeWidth": 0.9}, "encoding": {"x2": {"field": "t2"}, "y2": {"field": "v2"}}},
      {"data": {"name": "lb"}, "transform": [{"filter": "datum.p == 'D' && datum.k == 'm'"}], "mark": {"type": "text", "fontSize": 10, "align": "left", "baseline": "middle", "color": "#111"}, "encoding": {"text": {"field": "txt"}}},
      {"data": {"name": "lb"}, "transform": [{"filter": "datum.p == 'D' && datum.k == 's'"}], "mark": {"type": "text", "fontSize": 7.5, "align": "left", "baseline": "middle", "dy": 3.5, "color": "#111"}, "encoding": {"text": {"field": "txt"}}},
      {"data": {"name": "lt"}, "transform": [{"filter": "datum.p == 'D'"}], "mark": {"type": "text", "fontSize": 15, "fontStyle": "italic", "align": "center", "baseline": "alphabetic", "color": "#111"}, "encoding": {"text": {"field": "txt"}}}
    ]
  }
],
"resolve": {"scale": {"x": "independent", "y": "independent"}}
}
